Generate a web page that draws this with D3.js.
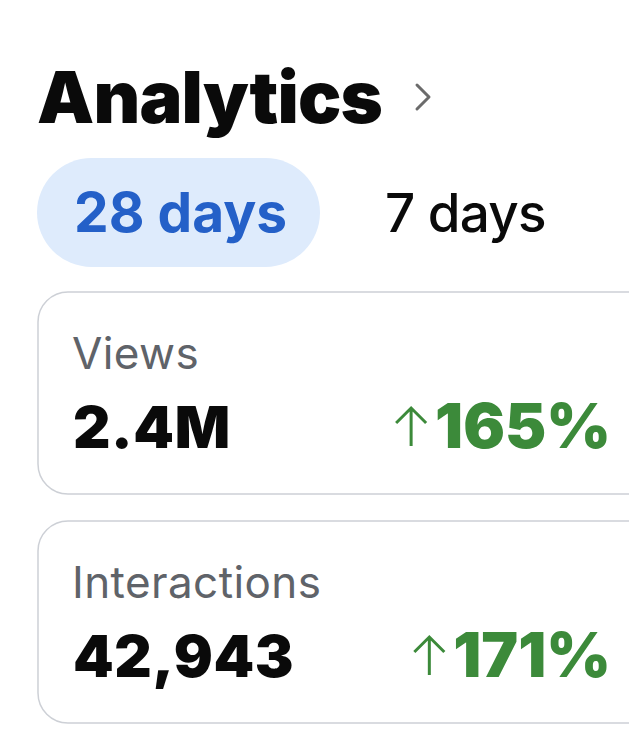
<!DOCTYPE html>
<html>
<head>
<meta charset="utf-8">
<script src="https://cdn.jsdelivr.net/npm/d3@7"></script>
<style>
  html, body { margin: 0; padding: 0; background: #fff; }
  svg { display: block; font-family: Inter, "Noto Sans", sans-serif; }
</style>
</head>
<body>
<div id="chart"></div>
<script>
// data
const periods = ["28 days", "7 days"];
const selectedPeriod = "28 days";
const metrics = ["Views", "Interactions"];
const totals = ["2.4M", "42,943"];
const changes = [165, 171];

const width = 629;
const height = 736;

const svg = d3.select('#chart')
    .append('svg')
    .attr('width', width)
    .attr('height', height);

// title + chevron
svg.append('text')
    .attr('x', 37)
    .attr('y', 123)
    .attr('font-size', 72)
    .attr('font-weight', 900)
    .attr('letter-spacing', -0.8)
    .attr('fill', '#0a0a0a')
    .text('Analytics');

svg.append('path')
    .attr('d', 'M417,85 L429,97 L417,109')
    .attr('fill', 'none')
    .attr('stroke', '#6b6b6b')
    .attr('stroke-width', 3)
    .attr('stroke-linecap', 'round')
    .attr('stroke-linejoin', 'round');

// period toggle
const px = d3.scaleOrdinal().domain(periods).range([74, 385]);

svg.append('rect')
    .attr('x', 37)
    .attr('y', 158)
    .attr('width', 283)
    .attr('height', 109)
    .attr('rx', 54.5)
    .attr('fill', '#deebfc');

svg.selectAll('.period')
    .data(periods)
    .join('text')
    .attr('class', 'period')
    .attr('x', d => px(d))
    .attr('y', 232)
    .attr('font-size', d => d === selectedPeriod ? 55 : 53)
    .attr('font-weight', d => d === selectedPeriod ? 700 : 500)
    .attr('letter-spacing', d => d === selectedPeriod ? 0 : -0.8)
    .attr('fill', d => d === selectedPeriod ? '#2460c8' : '#0a0a0a')
    .text(d => d);

// metric cards
const y = d3.scaleBand()
    .domain(metrics)
    .range([292, 723])
    .paddingInner(27 / 229)
    .paddingOuter(0);

const cards = svg.selectAll('.card')
    .data(metrics.map((m, i) => ({ name: m, total: totals[i], change: changes[i] })))
    .join('g')
    .attr('class', 'card')
    .attr('transform', d => `translate(0, ${y(d.name)})`);

cards.append('rect')
    .attr('x', 38)
    .attr('y', 0)
    .attr('width', 640)
    .attr('height', y.bandwidth())
    .attr('rx', 30)
    .attr('fill', '#fff')
    .attr('stroke', '#cdd0d6')
    .attr('stroke-width', 1.5);

cards.append('text')
    .attr('x', 72)
    .attr('y', 77)
    .attr('font-size', 44)
    .attr('font-weight', 400)
    .attr('letter-spacing', 0.4)
    .attr('fill', '#5f6369')
    .text(d => d.name);

cards.append('text')
    .attr('x', 73)
    .attr('y', 156)
    .attr('font-size', 58)
    .attr('font-weight', 900)
    .attr('letter-spacing', 0.6)
    .attr('fill', '#0a0a0a')
    .text(d => d.total);

const pct = cards.append('text')
    .attr('class', 'pct')
    .attr('x', 611)
    .attr('y', 156)
    .attr('text-anchor', 'end')
    .attr('font-size', 62)
    .attr('font-weight', 900)
    .attr('fill', '#3c8a3a')
    .text(d => d.change + '%');

// thin up arrow, placed left of the percentage
pct.each(function () {
    const w = this.getComputedTextLength();
    const g = d3.select(this.parentNode);
    const ax = 611 - w - 24;
    g.append('path')
        .attr('d', `M${ax},${116} L${ax},${154} M${ax - 15},${131} L${ax},${116} L${ax + 15},${131}`)
        .attr('fill', 'none')
        .attr('stroke', '#3c8a3a')
        .attr('stroke-width', 3)
        .attr('stroke-linejoin', 'miter');
});
</script>
</body>
</html>
